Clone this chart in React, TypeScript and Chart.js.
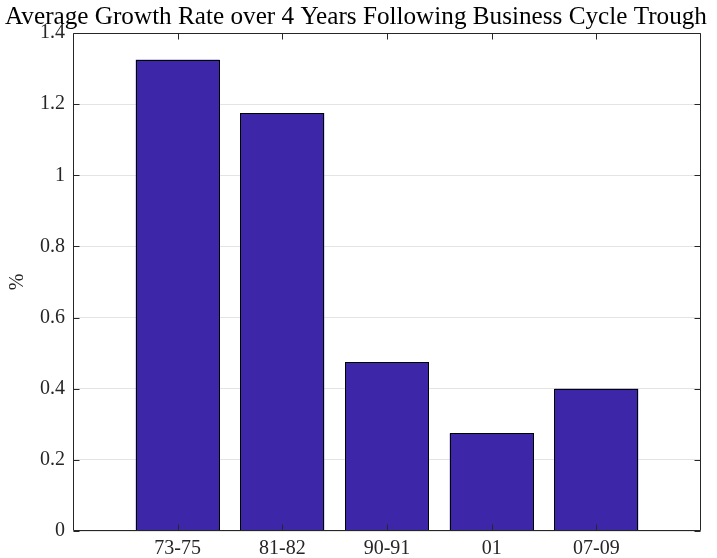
import React, { useEffect, useRef } from "react";
import { Chart, registerables } from "chart.js";

Chart.register(...registerables);

const categories = ["73-75", "81-82", "90-91", "01", "07-09"];
const growthRates = [1.325, 1.175, 0.475, 0.275, 0.4];
const yTicks = [0, 0.2, 0.4, 0.6, 0.8, 1, 1.2, 1.4];
const titleText = "Average Growth Rate over 4 Years Following Business Cycle Trough";
const yLabel = "%";

const FONT = "'Liberation Serif', 'DejaVu Serif', serif";

const boxPlugin = {
  id: "matlabBox",
  afterDatasetsDraw(chart: any) {
    const { ctx, chartArea, scales } = chart;
    const { left, right, top, bottom } = chartArea;
    ctx.save();
    // bar outlines, crisp
    ctx.strokeStyle = "#000000";
    ctx.lineWidth = 1;
    chart.getDatasetMeta(0).data.forEach((bar: any) => {
      const { x, y, base, width } = bar.getProps(["x", "y", "base", "width"], true);
      const x0 = Math.round(x - width / 2) + 0.5;
      const x1 = Math.round(x + width / 2) - 0.5;
      const y0 = Math.round(y) + 0.5;
      const y1 = Math.round(base) - 0.5;
      ctx.strokeRect(x0, y0, x1 - x0, y1 - y0);
    });
    ctx.strokeStyle = "#262626";
    const L = Math.round(left) + 0.5;
    const R = Math.round(right) - 0.5;
    const T = Math.round(top) + 0.5;
    const B = Math.round(bottom) - 0.5;
    ctx.beginPath();
    ctx.moveTo(L, T);
    ctx.lineTo(R, T);
    ctx.lineTo(R, B);
    ctx.lineTo(L, B);
    ctx.closePath();
    ctx.stroke();
    const tl = 6;
    ctx.beginPath();
    scales.y.ticks.forEach((t: any) => {
      const py = Math.round(scales.y.getPixelForValue(t.value)) + 0.5;
      ctx.moveTo(L, py);
      ctx.lineTo(L + tl, py);
      ctx.moveTo(R, py);
      ctx.lineTo(R - tl, py);
    });
    scales.x.ticks.forEach((t: any) => {
      const px = Math.round(scales.x.getPixelForValue(t.value)) + 0.5;
      ctx.moveTo(px, B);
      ctx.lineTo(px, B - tl);
      ctx.moveTo(px, T);
      ctx.lineTo(px, T + tl);
    });
    ctx.stroke();
    ctx.restore();
  },
  afterDraw(chart: any) {
    const { ctx, chartArea } = chart;
    ctx.save();
    ctx.fillStyle = "#000000";
    let size = 21;
    ctx.font = `${size}px ${FONT}`;
    const w = ctx.measureText(titleText).width;
    size = size * (702 / w);
    ctx.font = `${size}px ${FONT}`;
    ctx.textAlign = "center";
    ctx.textBaseline = "alphabetic";
    ctx.fillText(titleText, 356, 24);
    ctx.fillStyle = "#262626";
    ctx.font = `20px ${FONT}`;
    ctx.translate(18, (chartArea.top + chartArea.bottom) / 2);
    ctx.rotate(-Math.PI / 2);
    ctx.textAlign = "center";
    ctx.textBaseline = "middle";
    ctx.fillText(yLabel, 0, 0);
    ctx.restore();
  },
};

export default function App() {
  const ref = useRef<HTMLCanvasElement>(null);
  useEffect(() => {
    document.body.style.margin = "0";
    const canvas = ref.current!;
    const chart = new Chart(canvas, {
      type: "bar",
      data: {
        datasets: [
          {
            data: growthRates.map((v, i) => ({ x: i + 1, y: v })),
            backgroundColor: "#3e26a8",
            borderWidth: 0,
            barPercentage: 0.8,
            categoryPercentage: 1,
          },
        ],
      },
      options: {
        responsive: false,
        animation: false,
        events: [],
        layout: { padding: { top: 33, right: 16, left: 0, bottom: 0 } },
        plugins: { legend: { display: false }, tooltip: { enabled: false }, title: { display: false } },
        scales: {
          x: {
            type: "linear",
            offset: false,
            min: 0,
            max: categories.length + 1,
            afterBuildTicks: (s: any) => {
              s.ticks = categories.map((_, i) => ({ value: i + 1 }));
            },
            afterFit: (s: any) => {
              s.height = 27;
            },
            grid: { display: false, drawTicks: false, offset: false },
            border: { display: false },
            ticks: {
              autoSkip: false,
              maxRotation: 0,
              padding: 6,
              color: "#262626",
              font: { family: FONT, size: 20 },
              callback: (v: any) => categories[Number(v) - 1] ?? "",
            },
          },
          y: {
            type: "linear",
            min: 0,
            max: 1.4,
            afterBuildTicks: (s: any) => {
              s.ticks = yTicks.map((v) => ({ value: v }));
            },
            afterFit: (s: any) => {
              s.width = 73;
            },
            grid: { color: "#e4e4e4", drawTicks: false, lineWidth: 1 },
            border: { display: false },
            ticks: {
              padding: 8,
              color: "#262626",
              font: { family: FONT, size: 20 },
              callback: (v: any) => String(Math.round(Number(v) * 10) / 10),
            },
          },
        },
      },
      plugins: [boxPlugin],
    } as any);
    return () => chart.destroy();
  }, []);
  return <canvas ref={ref} width={717} height={558} style={{ display: "block" }} />;
}
